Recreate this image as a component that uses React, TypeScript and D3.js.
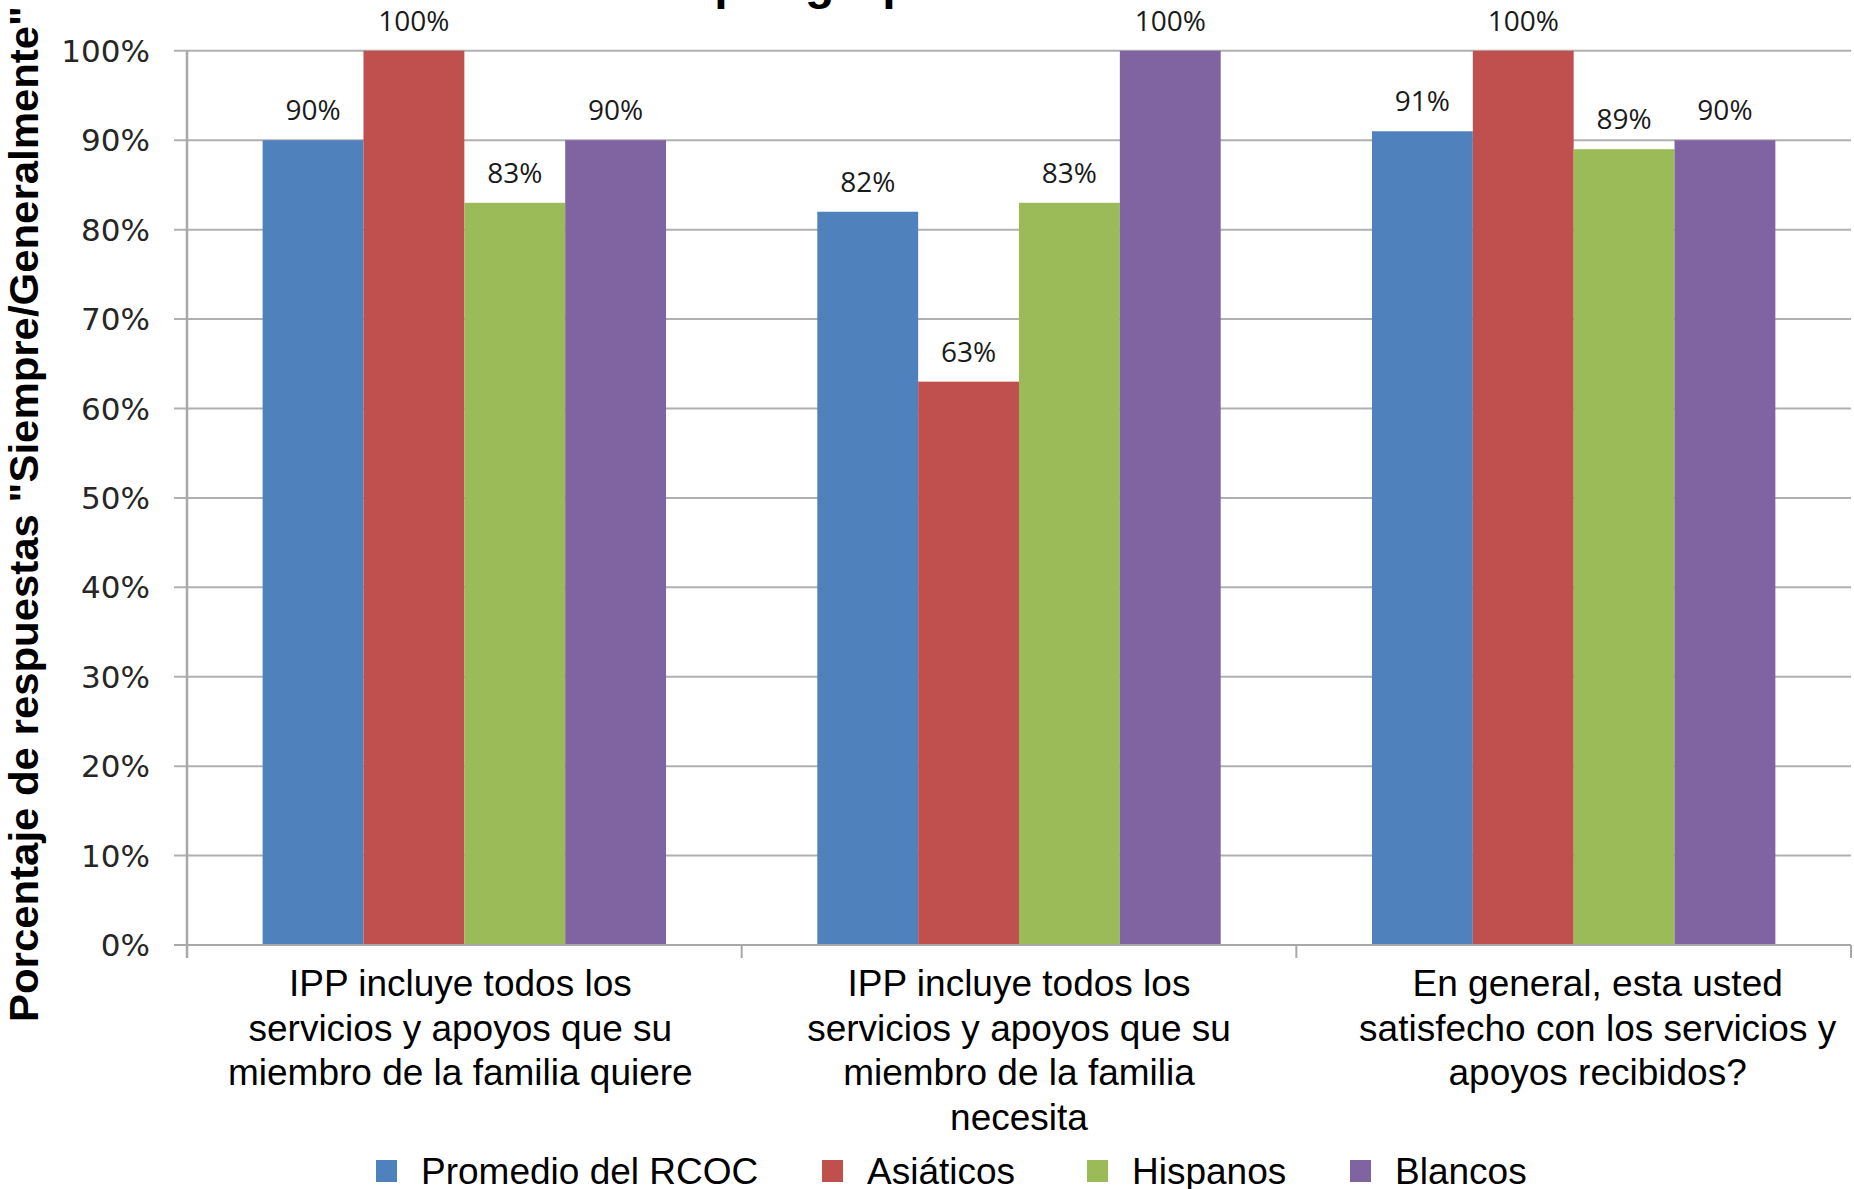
import React from "react";
import * as d3 from "d3";

const categories = [
  ["IPP incluye todos los", "servicios y apoyos que su", "miembro de la familia quiere"],
  ["IPP incluye todos los", "servicios y apoyos que su", "miembro de la familia", "necesita"],
  ["En general, esta usted", "satisfecho con los servicios y", "apoyos recibidos?"],
];
const seriesNames = ["Promedio del RCOC", "Asiáticos", "Hispanos", "Blancos"];
const promedio = [90, 82, 91];
const asiaticos = [100, 63, 100];
const hispanos = [83, 83, 89];
const blancos = [90, 100, 90];
const seriesValues = [promedio, asiaticos, hispanos, blancos];
const yTicks = [0, 10, 20, 30, 40, 50, 60, 70, 80, 90, 100];
const titleText = "por grupo étnico";
const yTitle = 'Porcentaje de respuestas  "Siempre/Generalmente"';

const colors = ["#4F81BD", "#C0504D", "#9BBB59", "#8064A2"];
const labelNudge = [-4, 0, 24];

const W = 1854;
const H = 1189;
const plot = { left: 187, right: 1851, top: 50.8, bottom: 945 };

export default function App() {
  const catIdx = categories.map((_, i) => i);
  const x0 = d3.scaleBand<number>().domain(catIdx).range([plot.left, plot.right]).padding(0);
  const x1 = d3
    .scaleBand<number>()
    .domain(seriesNames.map((_, i) => i))
    .range([0, x0.bandwidth()])
    .paddingInner(0)
    .paddingOuter(0.75);
  const y = d3.scaleLinear().domain([0, 100]).range([plot.bottom, plot.top]);

  const boundaries = [...catIdx.map((i) => x0(i) as number), plot.right];

  const legendX = [376, 822, 1087, 1350];

  return (
    <svg
      width={W}
      height={H}
      style={{ position: "absolute", left: 0, top: 0, background: "#fff" }}
    >
      <rect x={0} y={0} width={W} height={H} fill="#fff" />
      {/* title (mostly cut off) */}
      <text
        x={905}
        y={-1}
        textAnchor="middle"
        fontFamily="Liberation Sans, Arial, sans-serif"
        fontWeight="bold"
        fontSize={48}
        fill="#000"
      >
        {titleText}
      </text>

      {/* gridlines */}
      {yTicks.map((t) => (
        <line
          key={"g" + t}
          x1={plot.left - 13}
          x2={plot.right}
          y1={y(t)}
          y2={y(t)}
          stroke="#B0B0B0"
          strokeWidth={2}
        />
      ))}

      {/* y axis line */}
      <line x1={plot.left} x2={plot.left} y1={plot.top} y2={plot.bottom + 13} stroke="#A8A8A8" strokeWidth={2.5} />
      {/* x category ticks */}
      {boundaries.map((b, i) => (
        <line key={"xt" + i} x1={b} x2={b} y1={plot.bottom} y2={plot.bottom + 13} stroke="#A8A8A8" strokeWidth={2} />
      ))}

      {/* bars */}
      {seriesValues.map((vals, s) =>
        vals.map((v, c) => (
          <rect
            key={`b${s}-${c}`}
            x={(x0(c) as number) + (x1(s) as number)}
            y={y(v)}
            width={x1.bandwidth()}
            height={plot.bottom - y(v)}
            fill={colors[s]}
          />
        ))
      )}

      {/* x axis line */}
      <line x1={plot.left - 13} x2={plot.right} y1={plot.bottom} y2={plot.bottom} stroke="#A8A8A8" strokeWidth={2} />

      {/* data labels */}
      {seriesValues.map((vals, s) =>
        vals.map((v, c) => (
          <text
            key={`l${s}-${c}`}
            x={(x0(c) as number) + (x1(s) as number) + x1.bandwidth() / 2}
            y={y(v) - 20}
            textAnchor="middle"
            fontFamily="Open Sans, sans-serif"
            fontSize={28}
            fill="#1a1a1a"
          >
            {v}%
          </text>
        ))
      )}

      {/* y tick labels */}
      {yTicks.map((t) => (
        <text
          key={"yl" + t}
          x={150}
          y={y(t)}
          dy="0.36em"
          textAnchor="end"
          fontFamily="DejaVu Sans, Verdana, sans-serif"
          fontSize={31}
          fill="#262626"
        >
          {t}%
        </text>
      ))}

      {/* category labels */}
      {categories.map((lines, c) => (
        <text
          key={"c" + c}
          x={(x0(c) as number) + x0.bandwidth() / 2 + labelNudge[c]}
          y={996}
          textAnchor="middle"
          fontFamily="Liberation Sans, Arial, sans-serif"
          fontSize={37}
          fill="#000"
        >
          {lines.map((ln, i) => (
            <tspan key={i} x={(x0(c) as number) + x0.bandwidth() / 2 + labelNudge[c]} dy={i === 0 ? 0 : 44.5}>
              {ln}
            </tspan>
          ))}
        </text>
      ))}

      {/* y axis title */}
      <text
        transform="translate(38,514) rotate(-90)"
        textAnchor="middle"
        fontFamily="Liberation Sans, Arial, sans-serif"
        fontWeight="bold"
        fontSize={40}
        textLength={1016}
        lengthAdjust="spacingAndGlyphs"
        fill="#000"
      >
        {yTitle}
      </text>

      {/* legend */}
      {seriesNames.map((n, i) => (
        <g key={"lg" + i}>
          <rect x={legendX[i]} y={1160} width={21} height={22} fill={colors[i]} />
          <text
            x={legendX[i] + 45}
            y={1184}
            fontFamily="Liberation Sans, Arial, sans-serif"
            fontSize={37}
            fill="#000"
          >
            {n}
          </text>
        </g>
      ))}
    </svg>
  );
}
